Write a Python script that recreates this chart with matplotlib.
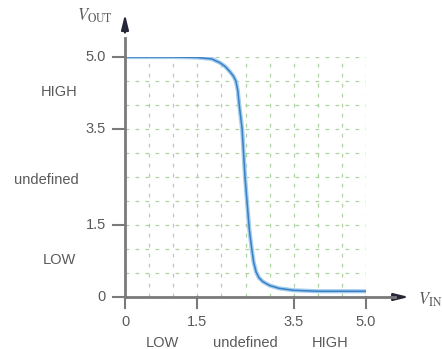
import matplotlib.pyplot as plt
import numpy as np

# transfer curve
vin = [0, 1.0, 1.5, 1.8, 1.97, 2.08, 2.18, 2.25, 2.30, 2.34, 2.37, 2.40, 2.43,
       2.46, 2.49, 2.53, 2.58, 2.63, 2.67, 2.72, 2.78, 2.86, 3.0, 3.2, 3.5, 4.0, 5.0]
vout = [5.0, 5.0, 4.99, 4.96, 4.88, 4.80, 4.69, 4.60, 4.50, 4.30, 4.00, 3.75, 3.50,
        3.00, 2.50, 2.00, 1.40, 1.00, 0.72, 0.52, 0.40, 0.32, 0.24, 0.18, 0.14, 0.12, 0.12]

ticks = [0, 1.5, 3.5, 5.0]
xtick_labels = ["0", "1.5", "3.5", "5.0"]
ytick_labels = ["0", "1.5", "3.5", "5.0"]
grid_vals = np.arange(0, 5.01, 0.5)

x_zones = ["LOW", "undefined", "HIGH"]
x_zone_pos = [0.78, 2.5, 4.25]
y_zones = ["LOW", "undefined", "HIGH"]
y_zone_pos = [0.77, 2.44, 4.27]

txt = "#5a5a5a"
axc = "#7a7a7a"

fig = plt.figure(figsize=(4.42, 3.49), dpi=100)
ax = fig.add_axes([125 / 442, 52 / 349, 241 / 442, 240 / 349])
ax.set_xlim(0, 5)
ax.set_ylim(0, 5)
ax.axis("off")

# dashed green grid
for g in grid_vals:
    ax.plot([g, g], [0, 5], ls=(0, (3, 5)), color="#acd3a0", lw=0.9, zorder=1)
    ax.plot([0, 5], [g, g], ls=(0, (3, 5)), color="#acd3a0", lw=0.9, zorder=1)

# curve
ax.plot(vin, vout, color="#a3cdef", lw=3.0, solid_capstyle="butt", zorder=3)
ax.plot(vin, vout, color="#3b7fc4", lw=1.1, zorder=4)

# axes with arrows
ax.plot([0, 5.6], [0, 0], color=axc, lw=2, clip_on=False, zorder=5)
ax.plot([0, 0], [0, 5.4], color=axc, lw=2, clip_on=False, zorder=5)
ax.annotate("", xy=(5.95, 0), xytext=(5.45, 0),
            arrowprops=dict(arrowstyle="-|>,head_length=0.9,head_width=0.22",
                            color="#26283a", lw=1.5), annotation_clip=False)
ax.annotate("", xy=(0, 5.95), xytext=(0, 5.45),
            arrowprops=dict(arrowstyle="-|>,head_length=0.9,head_width=0.22",
                            color="#26283a", lw=1.5), annotation_clip=False)

# ticks and labels
for t, lab in zip(ticks, xtick_labels):
    ax.plot([t, t], [0, -0.22], color=axc, lw=1.5, clip_on=False, zorder=5)
    ax.text(t, -0.52, lab, ha="center", va="center", fontsize=10.5,
            color=txt, family="Liberation Sans")
for t, lab in zip(ticks, ytick_labels):
    ax.plot([0, -0.25], [t, t], color=axc, lw=1.5, clip_on=False, zorder=5)
    ax.text(-0.4, t, lab, ha="right", va="center", fontsize=10.5,
            color=txt, family="Liberation Sans")

for lab, p in zip(x_zones, x_zone_pos):
    ax.text(p, -0.95, lab, ha="center", va="center", fontsize=10.5,
            color=txt, family="Liberation Sans")
for lab, p in zip(y_zones, y_zone_pos):
    ax.text(-1.36 if lab != "undefined" else -1.64, p, lab, ha="center",
            va="center", fontsize=10.5, color=txt, family="Liberation Sans")

plt.rcParams["mathtext.fontset"] = "stix"
ax.text(-0.62, 5.85, r"$V_{\mathrm{OUT}}$", ha="center", va="center",
        fontsize=12, color=txt)
ax.text(6.08, -0.05, r"$V_{\mathrm{IN}}$", ha="left", va="center",
        fontsize=12, color=txt)

fig.savefig("out.png", dpi=100)
